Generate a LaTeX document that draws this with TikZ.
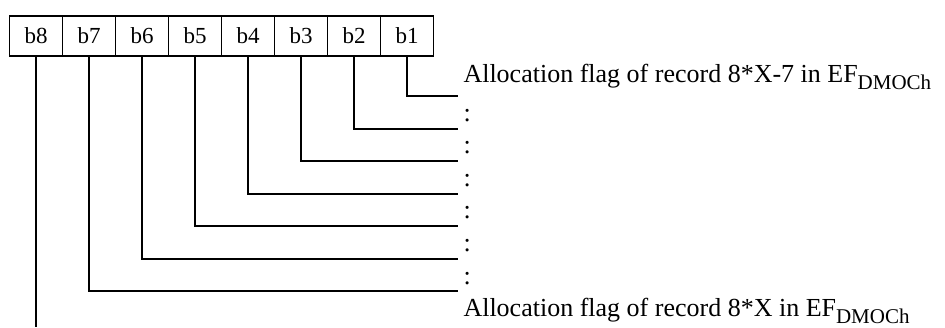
\documentclass[tikz,border=0pt]{standalone}
\usepackage{fontspec}
\setmainfont{Liberation Serif}
\tikzset{
  bit/.style={draw,line width=1.8pt,minimum width=53pt,minimum height=40pt,inner sep=0pt,font=\fontsize{23}{26}\selectfont},
  flag/.style={anchor=base west,inner sep=0pt,font=\fontsize{26}{30}\selectfont},
  wire/.style={line width=2pt}
}
\newcommand{\dmoch}{EF\raisebox{-7pt}{\fontsize{21}{21}\selectfont DMOCh}}

\begin{document}
\begin{tikzpicture}[x=1pt,y=-1pt]
\useasboundingbox (0,0) rectangle (945,327);
\node[bit] (b8) at (36,36) {b8};
\node[bit] (b7) at (89,36) {b7};
\node[bit] (b6) at (142,36) {b6};
\node[bit] (b5) at (195,36) {b5};
\node[bit] (b4) at (248,36) {b4};
\node[bit] (b3) at (301,36) {b3};
\node[bit] (b2) at (354,36) {b2};
\node[bit] (b1) at (407,36) {b1};
\coordinate (e1) at (458,96);
\coordinate (e2) at (458,129);
\coordinate (e3) at (458,161);
\coordinate (e4) at (458,194);
\coordinate (e5) at (458,226);
\coordinate (e6) at (458,259);
\coordinate (e7) at (458,291);
\coordinate (e8) at (36,327);
\node[flag] (f1) at (463.3,82) {Allocation flag of record 8*X-7 in \dmoch};
\node[flag] (c2) at (463.3,121) {:};
\node[flag] (c3) at (463.3,153.6) {:};
\node[flag] (c4) at (463.3,186.2) {:};
\node[flag] (c5) at (463.3,218.8) {:};
\node[flag] (c6) at (463.3,251.4) {:};
\node[flag] (c7) at (463.3,284) {:};
\node[flag] (f8) at (463.3,316.7) {Allocation flag of record 8*X in \dmoch};
\draw[wire] (b1.south) |- (e1);
\draw[wire] (b2.south) |- (e2);
\draw[wire] (b3.south) |- (e3);
\draw[wire] (b4.south) |- (e4);
\draw[wire] (b5.south) |- (e5);
\draw[wire] (b6.south) |- (e6);
\draw[wire] (b7.south) |- (e7);
\draw[wire] (b8.south) -- (e8);
\end{tikzpicture}
\end{document}
